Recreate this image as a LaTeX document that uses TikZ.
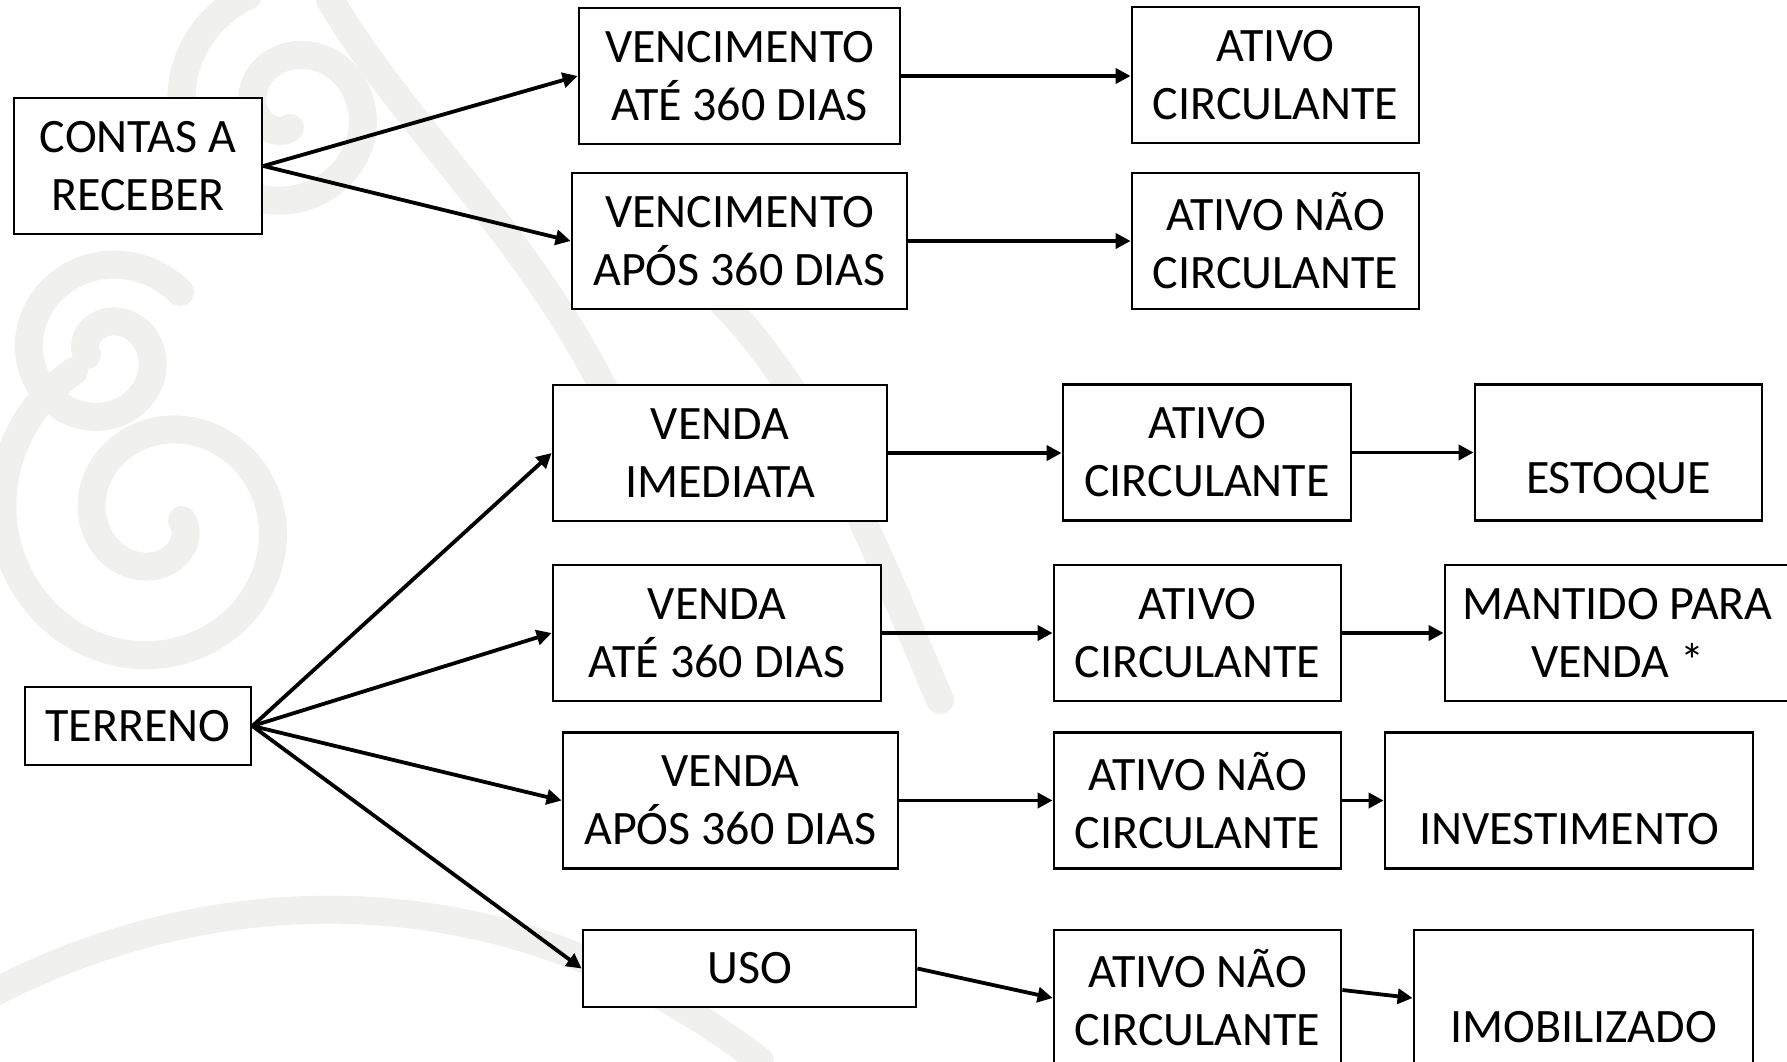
\documentclass[tikz,border=0pt]{standalone}
\usepackage{fontspec}
\setmainfont{Carlito}
\usetikzlibrary{arrows.meta}
\definecolor{wm}{RGB}{240,241,238}
\tikzset{
  box/.style={draw=black, line width=1.4pt, fill=white, align=center, inner sep=0pt,
    font=\fontsize{24}{29}\selectfont},
  conn/.style={line width=1.9pt, -{Triangle[length=7.5pt,width=7.5pt]}},
  wmline/.style={draw=wm, line width=14pt, line cap=round}
}
\begin{document}
\begin{tikzpicture}[x=0.5pt,y=-0.5pt]
\useasboundingbox (0,0) rectangle (1787,1061);
% faint background watermark
\begin{scope}
\clip (0,0) rectangle (1787,1061);
\draw[wmline] plot[domain=0:600,samples=120,smooth] ({160+(22+0.25*\x)*cos(\x)},{520+(22+0.25*\x)*sin(\x)});
\draw[wmline] plot[domain=0:500,samples=100,smooth] ({105+(18+0.16*\x)*cos(\x+180)},{355+(18+0.16*\x)*sin(\x+180)});
\draw[wmline] plot[domain=0:520,samples=100,smooth] ({290+(18+0.2*\x)*cos(\x+90)},{110+(18+0.2*\x)*sin(\x+90)});
\draw[wmline] (-20,1000) .. controls (200,880) and (500,860) .. (760,1061);
\draw[wmline] (330,0) .. controls (420,150) and (560,260) .. (640,470);
\draw[wmline] (720,300) .. controls (820,400) and (880,560) .. (940,700);
\end{scope}
% nodes
\node[box, minimum width=124pt, minimum height=68pt] (contas) at (138,166) {CONTAS A\\RECEBER};
\node[box, minimum width=160.5pt, minimum height=68pt] (vate) at (739.5,76) {VENCIMENTO\\ATÉ 360 DIAS};
\node[box, minimum width=167.5pt, minimum height=68pt] (vapos) at (739.5,241) {VENCIMENTO\\APÓS 360 DIAS};
\node[box, minimum width=143.5pt, minimum height=68pt] (ac1) at (1275.5,75) {ATIVO\\CIRCULANTE};
\node[box, minimum width=143.5pt, minimum height=68pt] (anc1) at (1275.5,241) {ATIVO NÃO\\CIRCULANTE};

\node[box, minimum width=113pt, minimum height=39pt] (terreno) at (138,726) {TERRENO};

\node[box, minimum width=167pt, minimum height=68pt] (vimed) at (720,453) {VENDA\\IMEDIATA};
\node[box, minimum width=144pt, minimum height=68pt] (ac2) at (1207,452.5) {ATIVO\\CIRCULANTE};
\node[box, minimum width=143.5pt, minimum height=68pt] (estoque) at (1618.5,452.5) {\vphantom{A}\\ESTOQUE};

\node[box, minimum width=164pt, minimum height=68pt] (vate2) at (717,633) {VENDA\\ATÉ 360 DIAS};
\node[box, minimum width=143.5pt, minimum height=68pt] (ac3) at (1197.5,633) {ATIVO\\CIRCULANTE};
\node[box, minimum width=172.5pt, minimum height=68pt] (mantido) at (1617.5,633) {MANTIDO PARA\\VENDA *};

\node[box, minimum width=167.5pt, minimum height=68pt] (vapos2) at (730.5,800.5) {VENDA\\APÓS 360 DIAS};
\node[box, minimum width=143.5pt, minimum height=68pt] (anc2) at (1197.5,800.5) {ATIVO NÃO\\CIRCULANTE};
\node[box, minimum width=184pt, minimum height=68pt] (invest) at (1569,800.5) {\vphantom{A}\\INVESTIMENTO};

\node[box, minimum width=166.5pt, minimum height=38.5pt] (uso) at (749.5,968.5) {USO};
\node[box, minimum width=143.5pt, minimum height=68pt] (anc3) at (1197.5,998) {ATIVO NÃO\\CIRCULANTE};
\node[box, minimum width=169.5pt, minimum height=68pt] (imob) at (1583.5,998) {\vphantom{A}\\IMOBILIZADO};

% connectors
\draw[conn] (contas.east) -- (vate.west);
\draw[conn] (contas.east) -- (vapos.west);
\draw[conn] (vate.east) -- (ac1.west |- vate.east);
\draw[conn] (vapos.east) -- (anc1.west);

\draw[conn] (terreno.east) -- (vimed.west);
\draw[conn] (terreno.east) -- (vate2.west);
\draw[conn] (terreno.east) -- (vapos2.west);
\draw[conn] (terreno.east) -- (uso.west);

\draw[conn] (vimed.east) -- (ac2.west |- vimed.east);
\draw[conn] (ac2.east) -- (estoque.west);
\draw[conn] (vate2.east) -- (ac3.west);
\draw[conn] (ac3.east) -- (mantido.west);
\draw[conn] (vapos2.east) -- (anc2.west);
\draw[conn] (anc2.east) -- (invest.west);
\draw[conn] (uso.east) -- (anc3.west);
\draw[conn] ([yshift=4pt]anc3.east) -- (imob.west);
\end{tikzpicture}
\end{document}
